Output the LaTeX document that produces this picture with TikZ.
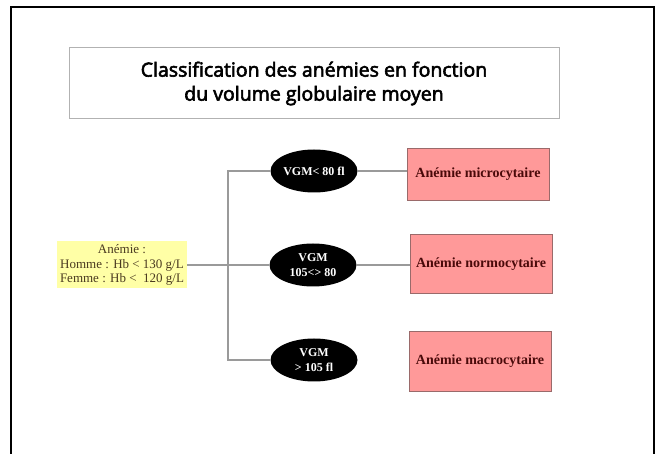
\documentclass[tikz,border=0pt]{standalone}
\usepackage{fontspec}
\setmainfont{Liberation Serif}
\newfontfamily\titlefont[FakeBold=3]{Open Sans}
\usetikzlibrary{shapes.geometric}
\definecolor{pinkfill}{HTML}{FF9999}
\definecolor{pinkborder}{HTML}{9A6A6A}
\definecolor{pinktext}{HTML}{4A0A0A}
\definecolor{yellowfill}{HTML}{FFFFA6}
\definecolor{yellowtext}{HTML}{4A3A20}
\definecolor{linkgray}{HTML}{9A9A9A}
\tikzset{
  vgm/.style={ellipse, fill=black, text=white, minimum width=87pt, minimum height=43pt,
    inner sep=0pt, align=center, font=\bfseries\fontsize{12}{15}\selectfont},
  result/.style={rectangle, fill=pinkfill, draw=pinkborder, line width=0.8pt, text=pinktext,
    minimum width=142pt, inner sep=0pt, align=center, font=\bfseries\fontsize{14}{16}\selectfont},
  link/.style={draw=linkgray, line width=1.2pt},
}
\begin{document}
\begin{tikzpicture}[x=1pt,y=-1pt]
\useasboundingbox (0,0) rectangle (657,454);
\draw[line width=2pt] (11,470) -- (11,7.5) -- (654,7.5) -- (654,470);
\node[draw=gray!60, line width=1pt, minimum width=490pt, minimum height=71pt, inner sep=0pt,
  align=center, font=\titlefont\fontsize{19.5}{24}\selectfont] (title) at (314,83.5)
  {Classification des anémies en fonction\\du volume globulaire moyen};
\node[fill=yellowfill, minimum width=130pt, minimum height=47pt, inner sep=0pt, align=center,
  text=yellowtext, font=\fontsize{13}{14.5}\selectfont] (anem) at (122,265)
  {Anémie :\\Homme : Hb < 130 g/L\\Femme : Hb <\ \ 120 g/L};
\node[vgm] (e1) at (314,171) {VGM< 80 fl};
\node[vgm] (e2) at (313,265) {VGM\\105<> 80};
\node[vgm] (e3) at (314,360) {VGM\\> 105 fl};
\node[result, minimum height=52pt] (r1) at (478,174) {Anémie microcytaire};
\node[result, minimum height=59pt] (r2) at (481,264) {Anémie normocytaire};
\node[result, minimum height=60pt] (r3) at (480,361) {Anémie macrocytaire};
\coordinate (sp) at (228,265);
\draw[link] (e1.west) -| (sp) |- (e3.west);
\draw[link] (anem.east) -- (e2.west);
\draw[link] (e1.east) -- (e1.east -| r1.west);
\draw[link] (e2.east) -- (e2.east -| r2.west);
\end{tikzpicture}
\end{document}
